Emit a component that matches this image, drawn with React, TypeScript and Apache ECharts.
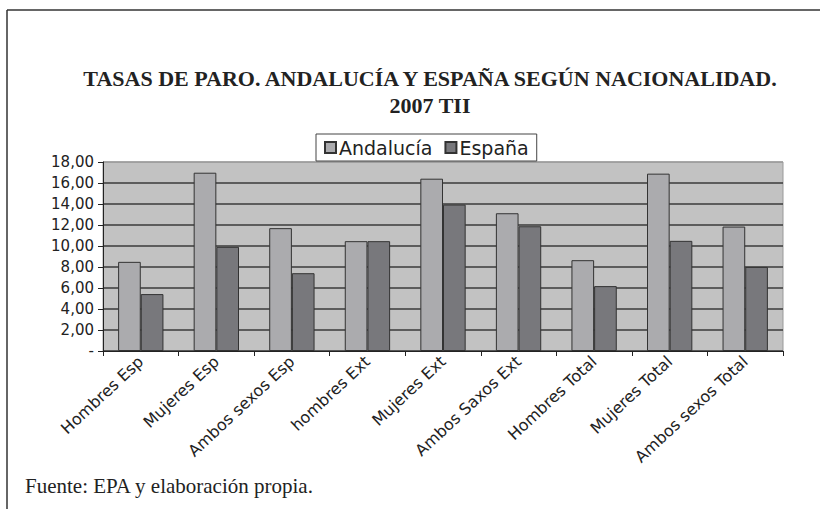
import React, { useEffect, useRef } from "react";
import * as echarts from "echarts";

const categories = [
  "Hombres Esp",
  "Mujeres Esp",
  "Ambos sexos Esp",
  "hombres Ext",
  "Mujeres Ext",
  "Ambos Saxos Ext",
  "Hombres Total",
  "Mujeres Total",
  "Ambos sexos Total",
];
const andalucia = [8.49, 16.98, 11.7, 10.46, 16.41, 13.12, 8.65, 16.89, 11.85];
const espana = [5.42, 9.92, 7.41, 10.46, 13.94, 11.88, 6.18, 10.49, 8.01];
const yTicks = [0, 2, 4, 6, 8, 10, 12, 14, 16, 18];

const titleText = "TASAS DE PARO. ANDALUCÍA Y ESPAÑA SEGÚN NACIONALIDAD.\n2007 TII";
const sourceText = "Fuente: EPA y elaboración propia.";

export default function App() {
  const ref = useRef<HTMLDivElement>(null);
  useEffect(() => {
    if (!ref.current) return;
    const chart = echarts.init(ref.current, undefined, { renderer: "svg" });
    const splitColors = yTicks.map((t, i) => (i === yTicks.length - 1 ? "#9a9a9a" : "#3a3a3a"));
    chart.setOption({
      animation: false,
      backgroundColor: "#ffffff",
      title: {
        text: titleText,
        left: 425,
        textAlign: "center",
        top: 60,
        textStyle: {
          fontFamily: "Liberation Serif",
          fontWeight: "bold",
          fontSize: 22,
          lineHeight: 27,
          color: "#222",
        },
      },
      legend: {
        data: ["Andalucía", "España"],
        left: 316,
        top: 134,
        itemWidth: 11,
        itemHeight: 11,
        itemGap: 12,
        padding: [4, 8, 4, 8],
        borderColor: "#444",
        borderWidth: 1,
        icon: "rect",
        textStyle: { fontFamily: "DejaVu Sans", fontSize: 19, color: "#222", padding: [0, 0, 0, -2] },
      },
      grid: {
        left: 103,
        right: 37,
        top: 162,
        bottom: 158,
        show: true,
        backgroundColor: "#c2c2c2",
        borderColor: "#9a9a9a",
        borderWidth: 1,
      },
      xAxis: {
        type: "category",
        data: categories,
        axisLine: { show: true, lineStyle: { color: "#222", width: 1 } },
        axisTick: { show: true, length: 5, lineStyle: { color: "#222" } },
        axisLabel: {
          rotate: 43,
          interval: 0,
          fontFamily: "DejaVu Sans",
          fontSize: 16,
          color: "#222",
          margin: 8,
        },
        splitLine: { show: false },
      },
      yAxis: {
        type: "value",
        min: 0,
        max: 18,
        interval: 2,
        axisLine: { show: true, lineStyle: { color: "#222", width: 1 } },
        axisTick: { show: true, length: 5, lineStyle: { color: "#222" } },
        axisLabel: {
          fontFamily: "DejaVu Sans",
          fontSize: 15,
          color: "#222",
          margin: 9,
          formatter: (v: number) => (v === 0 ? "-" : v.toFixed(2).replace(".", ",")),
        },
        splitLine: { show: true, lineStyle: { color: splitColors, width: 1.6 } },
      },
      series: [
        {
          name: "Andalucía",
          type: "bar",
          data: andalucia,
          barGap: "0%",
          barCategoryGap: "40%",
          itemStyle: { color: "#ababae", borderColor: "#333", borderWidth: 1 },
        },
        {
          name: "España",
          type: "bar",
          data: espana,
          itemStyle: { color: "#78787c", borderColor: "#333", borderWidth: 1 },
        },
      ],
      graphic: [
        {
          type: "line",
          shape: { x1: 7, y1: 10, x2: 820, y2: 10 },
          style: { stroke: "#333", lineWidth: 1.5 },
        },
        {
          type: "line",
          shape: { x1: 7, y1: 10, x2: 7, y2: 509 },
          style: { stroke: "#333", lineWidth: 1.5 },
        },
        {
          type: "text",
          left: 25,
          top: 475,
          style: {
            text: sourceText,
            fontFamily: "Liberation Serif",
            fontSize: 21,
            fill: "#222",
          },
        },
      ],
    });
    return () => chart.dispose();
  }, []);
  return (
    <div
      ref={ref}
      style={{ position: "fixed", left: 0, top: 0, width: 820, height: 509 }}
    />
  );
}
